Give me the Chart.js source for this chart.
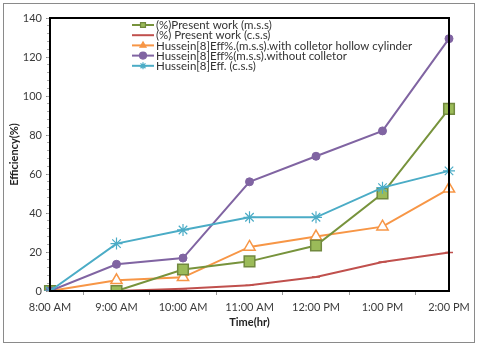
<!DOCTYPE html>
<html>
<head>
<meta charset="utf-8">
<script src="https://cdn.jsdelivr.net/npm/chart.js@4/dist/chart.umd.min.js"></script>
<style>
  html, body { margin: 0; padding: 0; background: #fff; }
  #wrap { width: 480px; height: 348px; }
</style>
</head>
<body>
<div id="wrap"><canvas id="effChart" width="480" height="348"></canvas></div>
<script>
// Time of day along the x axis
const timeLabels = ['8:00 AM', '9:00 AM', '10:00 AM', '11:00 AM', '12:00 PM', '1:00 PM', '2:00 PM'];

// Efficiency (%)
const presentMss = [0, 0, 11, 15.2, 23.3, 50, 93.4];
const presentCss = [0, 0, 1.2, 2.9, 7.2, 14.9, 19.7];
const husseinWithColl = [0, 5.5, 7, 22.6, 27.9, 33, 52.4];
const husseinWithoutColl = [0, 13.7, 16.9, 56, 69.1, 82.1, 129.4];
const husseinCss = [0, 24.3, 31.3, 37.8, 37.8, 53, 61.6];

const yTicks = [0, 20, 40, 60, 80, 100, 120, 140];

const FONT = 'Lato, "Open Sans", "DejaVu Sans", sans-serif';

// grey frame round the whole figure + black box round the plot
const frameBox = {
    id: 'frameBox',
    beforeDraw(chart) {
        const c = chart.ctx;
        c.save();
        c.fillStyle = '#fff';
        c.fillRect(0, 0, chart.width, chart.height);
        c.strokeStyle = '#8a8a8a';
        c.lineWidth = 1;
        c.strokeRect(3.5, 3.5, 471, 339);
        c.restore();
    },
    afterDatasetsDraw(chart) {
        const a = chart.chartArea;
        const c = chart.ctx;
        c.save();
        c.strokeStyle = '#000';
        c.lineWidth = 2;
        c.strokeRect(a.left, a.top, a.right - a.left, a.bottom - a.top);
        c.restore();
    }
};

// legend drawn inside the plot, one entry per row
const innerLegend = {
    id: 'innerLegend',
    afterDraw(chart) {
        const c = chart.ctx;
        const x0 = 132, y0 = 25, rowH = 10.2;
        c.save();
        c.font = '11.5px ' + FONT;
        c.textBaseline = 'middle';
        chart.data.datasets.forEach((ds, i) => {
            const y = y0 + i * rowH;
            c.strokeStyle = ds.borderColor;
            c.lineWidth = 2;
            c.beginPath();
            c.moveTo(x0, y);
            c.lineTo(x0 + 22, y);
            c.stroke();
            if (ds.pointStyle !== 'line') {
                c.fillStyle = ds.pointStyle === 'triangle' ? ds.pointBorderColor : ds.pointBackgroundColor;
                c.strokeStyle = ds.pointBorderColor;
                c.lineWidth = 1.2;
                Chart.helpers.drawPoint(c, { pointStyle: ds.pointStyle, radius: 3.5, rotation: 0, borderWidth: 1.2 }, x0 + 11, y);
            }
            c.fillStyle = '#333';
            c.fillText(ds.label, x0 + 24, y + 0.5);
        });
        c.restore();
    }
};

const ctx = document.getElementById('effChart').getContext('2d');

new Chart(ctx, {
    type: 'line',
    data: {
        labels: timeLabels,
        datasets: [{
            label: '(%)Present work (m.s.s)',
            data: presentMss,
            borderColor: '#77933C',
            backgroundColor: '#9BBB59',
            pointStyle: 'rect',
            pointBackgroundColor: '#9BBB59',
            pointBorderColor: '#71893F',
            pointRadius: 7.5,
            pointBorderWidth: 1.5,
            borderWidth: 2,
            order: 3
        }, {
            label: '(%) Present work (c.s.s)',
            data: presentCss,
            borderColor: '#C0504D',
            backgroundColor: '#C0504D',
            pointStyle: 'line',
            pointBackgroundColor: '#C0504D',
            pointBorderColor: '#C0504D',
            pointRadius: 4,
            pointBorderWidth: 1.5,
            borderWidth: 2,
            order: 5
        }, {
            label: 'Hussein[8]Eff%.(m.s.s).with colletor hollow cylinder',
            data: husseinWithColl,
            borderColor: '#F79646',
            backgroundColor: '#fff',
            pointStyle: 'triangle',
            pointBackgroundColor: '#fff',
            pointBorderColor: '#F79646',
            pointRadius: 6.5,
            pointBorderWidth: 1.5,
            borderWidth: 2,
            order: 4
        }, {
            label: 'Hussein[8]Eff%(m.s.s).without colletor',
            data: husseinWithoutColl,
            borderColor: '#8064A2',
            backgroundColor: '#8064A2',
            pointStyle: 'circle',
            pointBackgroundColor: '#8064A2',
            pointBorderColor: '#8064A2',
            pointRadius: 4,
            pointBorderWidth: 1,
            borderWidth: 2,
            order: 2
        }, {
            label: 'Hussein[8]Eff. (c.s.s)',
            data: husseinCss,
            borderColor: '#4BACC6',
            backgroundColor: '#4BACC6',
            pointStyle: 'star',
            pointBackgroundColor: '#4BACC6',
            pointBorderColor: '#4BACC6',
            pointRadius: 6,
            pointBorderWidth: 1.2,
            borderWidth: 2,
            order: 1
        }]
    },
    options: {
        responsive: false,
        animation: false,
        layout: { padding: { left: 8, top: 18, right: 31, bottom: 12 } },
        plugins: {
            legend: { display: false },
            tooltip: { enabled: false }
        },
        elements: { line: { tension: 0 } },
        scales: {
            x: {
                type: 'category',
                offset: false,
                weight: 1,
                afterFit(scale) { scale.height = 45; },
                grid: { drawOnChartArea: false, drawTicks: false },
                border: { color: '#000', width: 2 },
                ticks: {
                    color: '#3a3a3a',
                    font: { family: FONT, size: 11 },
                    padding: 10,
                    maxRotation: 0,
                    autoSkip: false
                },
                title: {
                    display: true,
                    text: 'Time(hr)',
                    color: '#222',
                    font: { family: FONT, size: 11, weight: 'bold' },
                    padding: { top: 6, bottom: 7 }
                }
            },
            // small grey tick marks halfway between the hours
            xMinor: {
                type: 'linear',
                position: 'bottom',
                weight: 0,
                min: 0,
                max: timeLabels.length - 1,
                afterBuildTicks(scale) {
                    scale.ticks = timeLabels.slice(1).map((_, i) => ({ value: i + 0.5 }));
                },
                afterFit(scale) { scale.height = 0; },
                grid: { drawOnChartArea: false, tickLength: 4, color: '#999' },
                border: { display: false },
                ticks: { display: false }
            },
            y: {
                min: 0,
                max: 140,
                weight: 1,
                afterBuildTicks(scale) {
                    scale.ticks = yTicks.map(v => ({ value: v }));
                },
                afterFit(scale) { scale.width = 42; },
                grid: { drawOnChartArea: false, tickLength: 4, color: '#888' },
                border: { color: '#000', width: 2 },
                ticks: {
                    color: '#3a3a3a',
                    font: { family: FONT, size: 11 },
                    padding: 4
                },
                title: {
                    display: true,
                    text: 'Efficiency(%)',
                    color: '#222',
                    font: { family: FONT, size: 11, weight: 'bold' },
                    padding: { top: 0, bottom: 2 }
                }
            },
            yMinor: {
                position: 'left',
                weight: 0,
                min: 0,
                max: 140,
                afterBuildTicks(scale) {
                    const t = [];
                    for (let v = 0; v <= 140; v += 4) t.push({ value: v });
                    scale.ticks = t;
                },
                afterFit(scale) { scale.width = 0; },
                grid: { drawOnChartArea: false, tickLength: 3, color: '#aaa' },
                border: { display: false },
                ticks: { display: false }
            }
        }
    },
    plugins: [frameBox, innerLegend]
});
</script>
</body>
</html>
